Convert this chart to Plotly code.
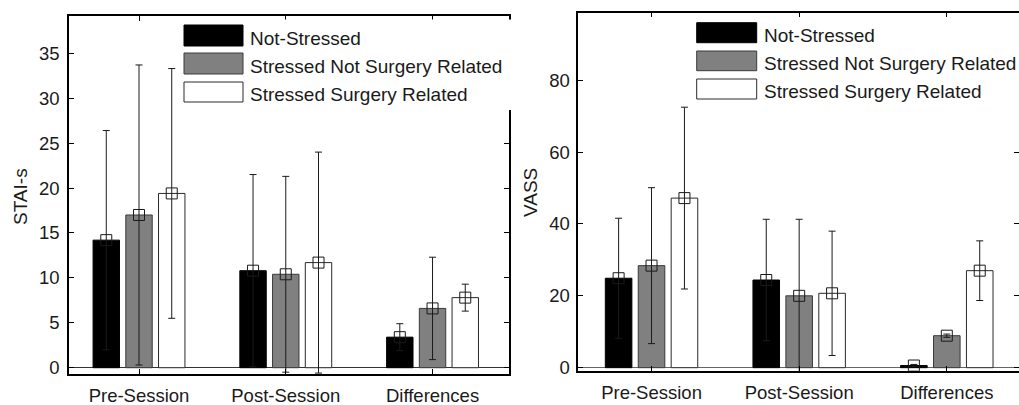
import plotly.graph_objects as go

W, H = 1019, 405

categories = ["Pre-Session", "Post-Session", "Differences"]
series_names = ["Not-Stressed", "Stressed Not Surgery Related", "Stressed Surgery Related"]

# STAI-s: group means and standard deviations
stai_not_stressed = [14.2, 10.8, 3.4]
stai_stressed_other = [17.0, 10.4, 6.6]
stai_stressed_surgery = [19.4, 11.7, 7.8]
stai_sd_not_stressed = [12.2, 10.7, 1.5]
stai_sd_stressed_other = [16.7, 10.9, 5.7]
stai_sd_stressed_surgery = [13.9, 12.3, 1.5]

# VASS: group means and standard deviations
vass_not_stressed = [24.9, 24.4, 0.6]
vass_stressed_other = [28.4, 20.0, 8.9]
vass_stressed_surgery = [47.2, 20.7, 27.0]
vass_sd_not_stressed = [16.7, 16.9, 0.3]
vass_sd_stressed_other = [21.7, 21.3, 0.45]
vass_sd_stressed_surgery = [25.3, 17.3, 8.3]

stai_ticks = [0, 5, 10, 15, 20, 25, 30, 35]
vass_ticks = [0, 20, 40, 60, 80]

FONT = "Liberation Sans, Arial, sans-serif"
TXT = "#1a1a1a"
FILLS = ["#000000", "#808080", "#ffffff"]
EDGES = ["#000000", "#3a3a3a", "#2a2a2a"]
OFFSETS = [-0.223, 0.0, 0.223]
BAR_W = 0.18


def px_x(p):
    return p / W


def px_y(p):
    return 1 - p / H


fig = go.Figure()

panels = [
    ("x", "y", [stai_not_stressed, stai_stressed_other, stai_stressed_surgery],
     [stai_sd_not_stressed, stai_sd_stressed_other, stai_sd_stressed_surgery]),
    ("x2", "y2", [vass_not_stressed, vass_stressed_other, vass_stressed_surgery],
     [vass_sd_not_stressed, vass_sd_stressed_other, vass_sd_stressed_surgery]),
]

for xa, ya, means, sds in panels:
    for k in range(3):
        xs = [i + 1 + OFFSETS[k] for i in range(len(categories))]
        fig.add_trace(go.Bar(
            x=xs, y=means[k], width=BAR_W, xaxis=xa, yaxis=ya,
            name=series_names[k], showlegend=False,
            marker=dict(color=FILLS[k], line=dict(color=EDGES[k], width=1)),
        ))
    for k in range(3):
        xs = [i + 1 + OFFSETS[k] for i in range(len(categories))]
        fig.add_trace(go.Scatter(
            x=xs, y=means[k], mode="markers", xaxis=xa, yaxis=ya,
            showlegend=False, cliponaxis=True,
            marker=dict(symbol="square-open", size=11, color="#1a1a1a",
                        line=dict(width=1)),
            error_y=dict(type="data", array=sds[k], visible=True,
                         color="#1a1a1a", thickness=1, width=3.5),
        ))

axis_common = dict(
    showgrid=False, showline=True, linecolor="#000000", linewidth=1.5,
    ticks="inside", ticklen=5, tickwidth=1, tickcolor="#000000",
    mirror="ticks", automargin=False,
    tickfont=dict(family=FONT, size=18.5, color=TXT),
)

fig.update_layout(
    width=W, height=H,
    margin=dict(l=0, r=0, t=0, b=0),
    paper_bgcolor="white", plot_bgcolor="white",
    barmode="overlay", showlegend=False,
    xaxis=dict(domain=[px_x(69), px_x(509)], range=[0.523, 3.521],
               tickvals=[1, 2, 3], ticktext=categories, anchor="y",
               zeroline=False, ticklabelstandoff=4, **axis_common),
    yaxis=dict(domain=[px_y(374), px_y(16)], range=[-0.70, 39.15],
               tickvals=stai_ticks, anchor="x",
               zeroline=True, zerolinecolor="#333333", zerolinewidth=1,
               ticklabelstandoff=4, **axis_common),
    xaxis2=dict(domain=[px_x(578.3), 1.0], range=[0.504, 3.489],
                tickvals=[1, 2, 3], ticktext=categories, anchor="y2",
                zeroline=False, ticklabelstandoff=4, **axis_common),
    yaxis2=dict(domain=[px_y(370.7), px_y(12.7)], range=[-0.84, 98.8],
                tickvals=vass_ticks, anchor="x2",
                zeroline=True, zerolinecolor="#666666", zerolinewidth=1,
                ticklabelstandoff=3, **axis_common),
)

shapes = []
annotations = []

# legend backgrounds (hide the upper part of the right-hand frame)
for x0, x1, y0, y1 in [(180, 512, 19.5, 110), (690, 1019, 17, 108)]:
    shapes.append(dict(type="rect", xref="paper", yref="paper", layer="above",
                       x0=px_x(x0), x1=px_x(x1), y0=px_y(y1), y1=px_y(y0),
                       fillcolor="white", line=dict(width=0)))

legend_specs = [
    (184, 243, 248, [(25, 46), (53, 74), (82, 102)]),
    (696.7, 756.7, 761.5, [(22.7, 42.7), (51, 70.7), (79, 99)]),
]
for x0, x1, tx, rows in legend_specs:
    for k, (y0, y1) in enumerate(rows):
        shapes.append(dict(type="rect", xref="paper", yref="paper", layer="above",
                           x0=px_x(x0), x1=px_x(x1), y0=px_y(y1), y1=px_y(y0),
                           fillcolor=FILLS[k], line=dict(color=EDGES[k], width=1)))
        annotations.append(dict(xref="paper", yref="paper", x=px_x(tx),
                                y=px_y((y0 + y1) / 2 + 2.5),
                                xanchor="left", yanchor="middle", showarrow=False,
                                text=series_names[k],
                                font=dict(family=FONT, size=19, color=TXT)))

# y axis titles
for text, cx, cy in [("STAI-s", 20, 197), ("VASS", 530, 193)]:
    annotations.append(dict(xref="paper", yref="paper", x=px_x(cx), y=px_y(cy),
                            xanchor="center", yanchor="middle", showarrow=False,
                            textangle=-90, text=text,
                            font=dict(family=FONT, size=19, color=TXT)))

fig.update_layout(shapes=shapes, annotations=annotations)

fig.write_html("out.html")
